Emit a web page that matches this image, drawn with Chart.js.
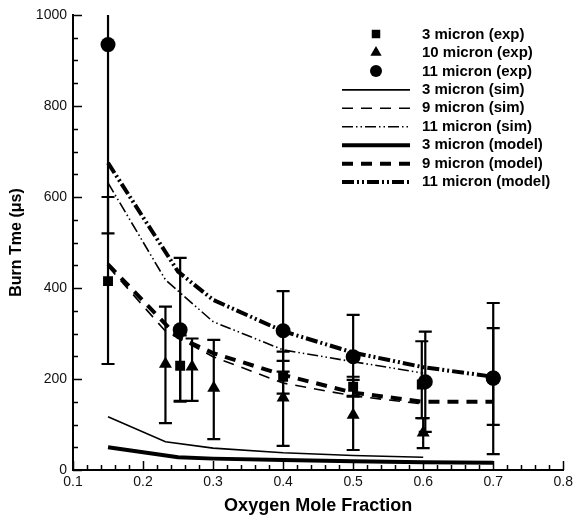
<!DOCTYPE html>
<html lang="en">
<head>
  <meta charset="UTF-8">
  <title>Burn Time vs Oxygen Mole Fraction</title>
  <script src="https://cdn.jsdelivr.net/npm/chart.js@4.4.2/dist/chart.umd.min.js"></script>
  <style>
    body { margin: 0; background: #fff; }
    .wrap { width: 577px; height: 517px; }
  </style>
</head>
<body>
  <div class="wrap"><canvas id="burnChart"></canvas></div>
  <script>
    // experimental burn times (us) with error bar limits
    const exp3X = [0.15, 0.253, 0.4, 0.5, 0.598];
    const exp3Y = [415, 229, 205, 183, 188];
    const exp3Lo = [233, 152, 168, 163, 114];
    const exp3Hi = [600, 296, 240, 205, 283];

    const exp10X = [0.232, 0.27, 0.301, 0.4, 0.5, 0.6];
    const exp10Y = [233, 227, 180, 159, 121, 82];
    const exp10Lo = [103, 152, 68, 53, 44, 48];
    const exp10Hi = [359, 289, 286, 260, 198, 114];

    const exp11X = [0.15, 0.253, 0.4, 0.5, 0.603, 0.7, 0.7];
    const exp11Y = [935, 308, 306, 249, 194, 202, 202];
    const exp11Lo = [520, 150, 216, 161, 84, 35, 99];
    const exp11Hi = [1350, 466, 393, 341, 304, 367, 312];

    // simulation curves
    const simX = [0.15, 0.232, 0.3, 0.4, 0.5, 0.6];
    const sim3Y = [117, 62, 48, 38, 32, 28];
    const sim9Y = [448, 305, 249, 191, 163, 145];
    const sim11Y = [631, 418, 326, 264, 238, 213];

    // model curves
    const modelX = [0.15, 0.25, 0.3, 0.4, 0.5, 0.6, 0.7];
    const model3Y = [50, 28, 25, 22, 19, 17, 16];
    const model9Y = [452, 292, 257, 209, 170, 150, 150];
    const model11Y = [675, 436, 374, 305, 258, 226, 205];

    const xTicks = [0.1, 0.2, 0.3, 0.4, 0.5, 0.6, 0.7, 0.8];
    const yTicks = [0, 200, 400, 600, 800, 1000];

    const FONT = 'Arial, "Liberation Sans", Helvetica, sans-serif';
    const pts = (xs, ys) => xs.map((x, i) => ({ x: x, y: ys[i] }));

    function expSet(label, xs, ys, lo, hi, style, r, legendR) {
      return {
        type: 'scatter', label: label, data: pts(xs, ys),
        errLo: lo, errHi: hi, legendRadius: legendR,
        pointStyle: style, pointRadius: r, pointHoverRadius: r,
        backgroundColor: '#000', borderColor: '#000', borderWidth: 0
      };
    }
    function lineSet(label, xs, ys, width, dash) {
      return {
        type: 'line', label: label, data: pts(xs, ys),
        borderColor: '#000', borderWidth: width, borderDash: dash,
        pointRadius: 0, tension: 0, fill: false
      };
    }

    // vertical error bars with caps, drawn under the markers
    const errorBars = {
      id: 'errorBars',
      beforeDatasetsDraw(chart) {
        const { ctx, chartArea: a, scales: { x, y } } = chart;
        ctx.save();
        ctx.strokeStyle = '#000';
        ctx.lineWidth = 2.2;
        chart.data.datasets.forEach(ds => {
          if (!ds.errLo) return;
          ds.data.forEach((p, i) => {
            const px = x.getPixelForValue(p.x);
            const yl = y.getPixelForValue(ds.errLo[i]);
            const yh = y.getPixelForValue(ds.errHi[i]);
            ctx.beginPath();
            ctx.moveTo(px, Math.min(yl, a.bottom));
            ctx.lineTo(px, Math.max(yh, a.top));
            [yl, yh].forEach(cy => {
              if (cy < a.top || cy > a.bottom) return;
              ctx.moveTo(px - 6.5, cy);
              ctx.lineTo(px + 6.5, cy);
            });
            ctx.stroke();
          });
        });
        ctx.restore();
      }
    };

    // inward major and minor tick marks
    const innerTicks = {
      id: 'innerTicks',
      afterDraw(chart) {
        const { ctx, chartArea: a, scales: { x, y } } = chart;
        ctx.save();
        ctx.strokeStyle = '#000';
        ctx.lineWidth = 1.5;
        ctx.beginPath();
        for (let v = 0; v <= 1000; v += 50) {
          const py = Math.round(y.getPixelForValue(v)) + 0.5;
          const len = v % 200 === 0 ? 9 : 5;
          ctx.moveTo(a.left, py);
          ctx.lineTo(a.left + len, py);
        }
        for (let k = 0; k <= 35; k++) {
          const v = 0.1 + k * 0.02;
          const px = Math.round(x.getPixelForValue(v)) + 0.5;
          const len = k % 5 === 0 ? 9 : 5;
          ctx.moveTo(px, a.bottom);
          ctx.lineTo(px, a.bottom - len);
        }
        ctx.stroke();
        ctx.restore();
      }
    };

    // legend block in the upper right
    const sideLegend = {
      id: 'sideLegend',
      afterDraw(chart) {
        const ctx = chart.ctx;
        const x0 = 342, x1 = 410, cx = 376, tx = 422;
        ctx.save();
        ctx.fillStyle = '#000';
        ctx.strokeStyle = '#000';
        ctx.font = 'bold 15px ' + FONT;
        ctx.textBaseline = 'middle';
        chart.data.datasets.forEach((ds, i) => {
          const cy = 34.5 + i * 18.45;
          if (ds.type === 'scatter') {
            Chart.helpers.drawPoint(ctx, { pointStyle: ds.pointStyle, radius: ds.legendRadius, rotation: 0, borderWidth: 0 }, cx, cy - 0.5);
          } else {
            ctx.save();
            ctx.lineWidth = ds.borderWidth;
            ctx.setLineDash(ds.borderDash);
            ctx.beginPath();
            ctx.moveTo(x0, cy);
            ctx.lineTo(x1, cy);
            ctx.stroke();
            ctx.restore();
          }
          ctx.fillText(ds.label, tx, cy);
        });
        ctx.restore();
      }
    };

    const thin = 1.6, thick = 4;
    const dashed = [11, 8];
    const dashDotDot = [11, 3, 1.5, 3, 1.5, 3];

    new Chart(document.getElementById('burnChart'), {
      data: {
        datasets: [
          expSet('3 micron (exp)', exp3X, exp3Y, exp3Lo, exp3Hi, 'rect', 7, 6),
          expSet('10 micron (exp)', exp10X, exp10Y, exp10Lo, exp10Hi, 'triangle', 7.5, 6.5),
          expSet('11 micron (exp)', exp11X, exp11Y, exp11Lo, exp11Hi, 'circle', 7.5, 6),
          lineSet('3 micron (sim)', simX, sim3Y, thin, []),
          lineSet('9 micron (sim)', simX, sim9Y, thin, dashed),
          lineSet('11 micron (sim)', simX, sim11Y, thin, dashDotDot),
          lineSet('3 micron (model)', modelX, model3Y, thick, []),
          lineSet('9 micron (model)', modelX, model9Y, thick, dashed),
          lineSet('11 micron (model)', modelX, model11Y, thick, [12, 3, 2, 3, 2, 3])
        ]
      },
      options: {
        responsive: true,
        maintainAspectRatio: false,
        animation: false,
        layout: { padding: { top: 15, right: 10, left: 0, bottom: 0 } },
        plugins: { legend: { display: false }, tooltip: { enabled: false } },
        scales: {
          x: {
            type: 'linear', min: 0.1, max: 0.8,
            afterFit: s => { s.height = 47; },
            afterBuildTicks: s => { s.ticks = xTicks.map(v => ({ value: v })); },
            grid: { display: false, drawTicks: false },
            border: { display: true, color: '#000', width: 2 },
            ticks: { color: '#111', padding: 4, font: { family: FONT, size: 14 }, callback: v => v.toFixed(1) },
            title: { display: true, text: 'Oxygen Mole Fraction', color: '#000', padding: { top: 0, bottom: 0 }, font: { family: FONT, size: 18, weight: 'bold' } }
          },
          y: {
            type: 'linear', min: 0, max: 1000,
            afterFit: s => { s.width = 73; },
            afterBuildTicks: s => { s.ticks = yTicks.map(v => ({ value: v })); },
            grid: { display: false, drawTicks: false },
            border: { display: true, color: '#000', width: 2 },
            ticks: { color: '#111', padding: 6, font: { family: FONT, size: 14 }, callback: v => String(v) },
            title: { display: true, text: 'Burn Tme (\u03bcs)', color: '#000', padding: { top: 7, bottom: 0 }, font: { family: FONT, size: 16, weight: 'bold' } }
          }
        }
      },
      plugins: [errorBars, innerTicks, sideLegend]
    });
  </script>
</body>
</html>
